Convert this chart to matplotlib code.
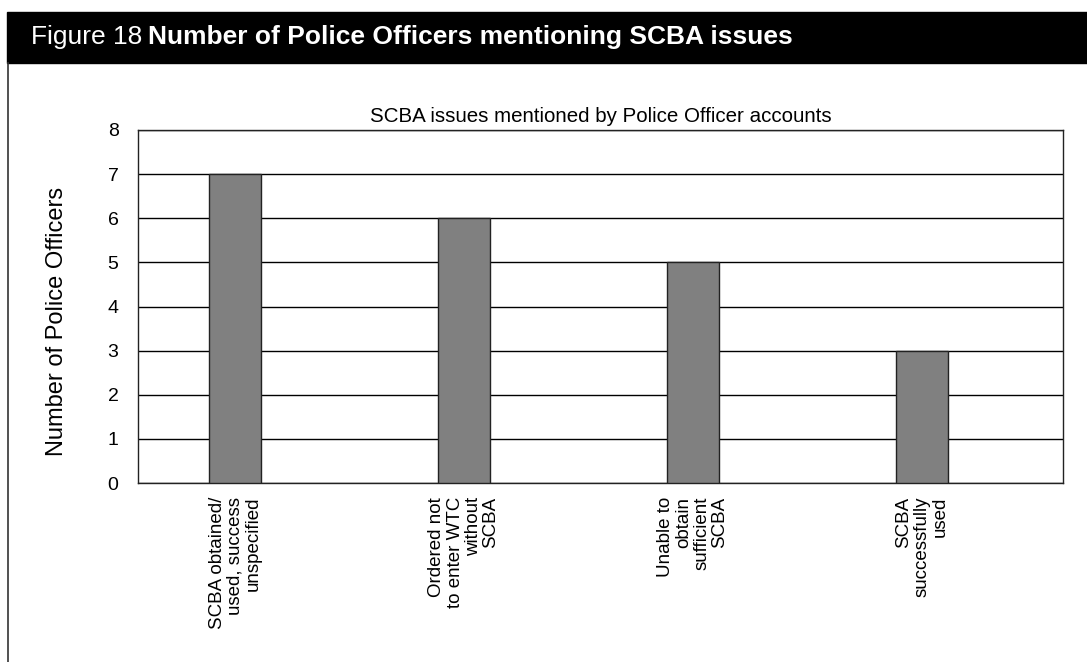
"""Figure 18: police officers mentioning SCBA issues."""
import matplotlib
matplotlib.use("Agg")
import matplotlib.pyplot as plt
from matplotlib.patches import Rectangle
from matplotlib.lines import Line2D

CATEGORIES = [
    "SCBA obtained/\nused, success\nunspecified",
    "Ordered not\nto enter WTC\nwithout\nSCBA",
    "Unable to\nobtain\nsufficient\nSCBA",
    "SCBA\nsuccessfully\nused",
]
COUNTS = [7, 6, 5, 3]
YTICKS = list(range(0, 9))

plt.rcParams["font.family"] = ["Liberation Sans", "DejaVu Sans"]

W, H = 1087, 662
fig = plt.figure(figsize=(W / 100, H / 100), dpi=100)

# black header band + left frame line
fig.patches.append(Rectangle((7 / W, 1 - 63 / H), 1 - 7 / W, 51 / H,
                             transform=fig.transFigure, color="black", zorder=0))
fig.lines.append(Line2D([7.5 / W, 7.5 / W], [0, 1 - 63 / H], transform=fig.transFigure,
                        color="#333333", linewidth=1.2))
fig.text(31 / W, 1 - 37 / H, "Figure 18", color="white", fontsize=19, va="center")
fig.text(148 / W, 1 - 37 / H, "Number of Police Officers mentioning SCBA issues",
         color="white", fontsize=19, va="center", fontweight="bold")

ax = fig.add_axes([138 / W, 1 - 483 / H, 925 / W, 353 / H])
x = list(range(len(CATEGORIES)))
ax.bar(x, COUNTS, width=0.227, color="#808080", edgecolor="#222222", linewidth=1, zorder=3)
ax.set_xlim(-0.424, 3.616)
ax.set_ylim(0, 8)
ax.set_yticks(YTICKS)
ax.tick_params(axis="y", labelsize=14, length=0, pad=14)
ax.set_xticks(x)
ax.set_xticklabels(CATEGORIES, rotation=90, fontsize=13.5, ha="center", va="top",
                   multialignment="right", linespacing=1.08)
ax.tick_params(axis="x", length=0, pad=10)
ax.grid(True, axis="y", color="black", linewidth=1, zorder=0)
for s in ax.spines.values():
    s.set_color("#222222")
    s.set_linewidth(1)
ax.set_ylabel("Number of Police Officers", fontsize=17)
ax.yaxis.set_label_coords(-0.076, 0.459)
ax.set_title("SCBA issues mentioned by Police Officer accounts", fontsize=14.8, pad=6)

fig.savefig("out.png", dpi=100)
